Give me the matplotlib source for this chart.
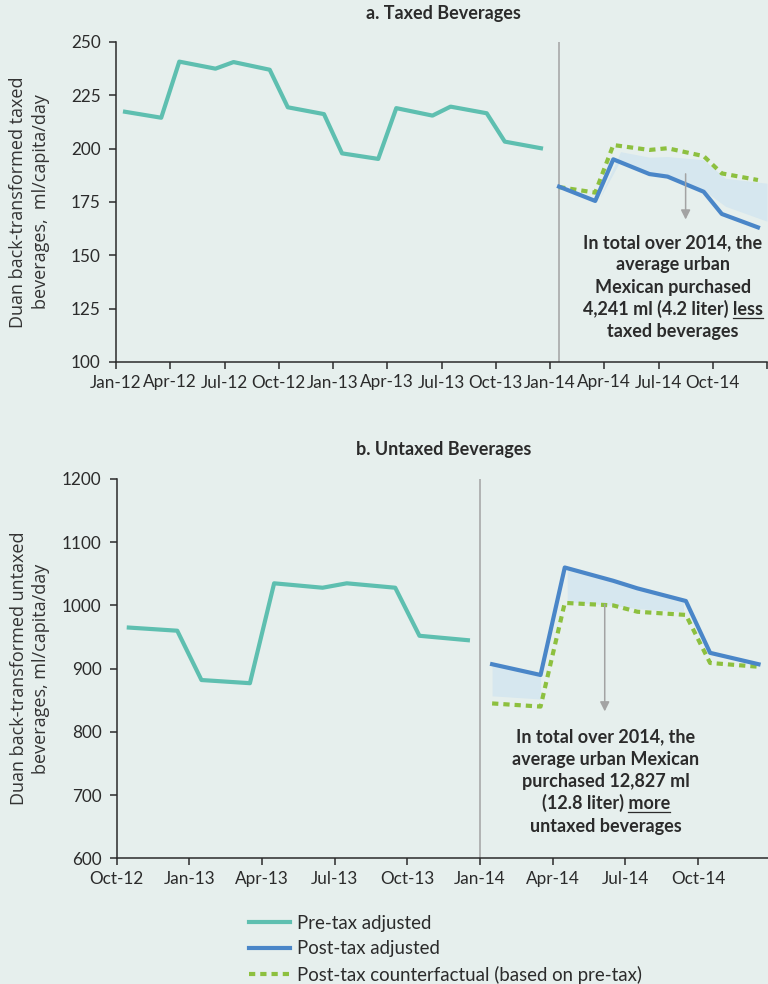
import numpy as np
import matplotlib
matplotlib.use("Agg")
import matplotlib.pyplot as plt
from matplotlib.lines import Line2D

BG = "#e6efed"
TEAL = "#5ebfb0"
BLUE = "#4a86c8"
GREEN = "#8dc03f"
BAND = "#d6e7ef"
GREY = "#a3a3a3"
INK = "#2b2b2b"

# --- taxed beverages (x = months since Jan-12)
tax_pre_m = [0.5, 2.5, 3.5, 5.5, 6.5, 8.5, 9.5, 11.5, 12.5, 14.5, 15.5, 17.5, 18.5, 20.5, 21.5, 23.5]
tax_pre = [217.3, 214.5, 240.8, 237.5, 240.6, 237.0, 219.4, 216.2, 197.8, 195.2, 219.0, 215.5, 219.7, 216.6, 203.3, 200.2]
tax_post_m = [24.5, 26.5, 27.5, 29.5, 30.5, 32.5, 33.5, 35.5]
tax_post = [182.2, 175.5, 195.0, 188.1, 186.9, 179.8, 169.4, 163.1]
tax_cf = [182.0, 179.4, 201.7, 199.4, 200.2, 196.5, 188.4, 185.3]
tax_band_m = [26.8, 27.9, 29.5, 30.5, 32.5, 33.7, 36.0]
tax_band_hi = [178.0, 198.6, 196.0, 196.3, 194.8, 186.1, 183.8]
tax_band_lo = [177.5, 194.5, 188.1, 186.9, 180.5, 173.0, 166.0]
tax_ticks = ["Jan-12", "Apr-12", "Jul-12", "Oct-12", "Jan-13", "Apr-13", "Jul-13",
             "Oct-13", "Jan-14", "Apr-14", "Jul-14", "Oct-14", ""]

# --- untaxed beverages (x = months since Oct-12)
untax_pre_m = [0.5, 2.5, 3.5, 5.5, 6.5, 8.5, 9.5, 11.5, 12.5, 14.5]
untax_pre = [965, 960, 882, 877, 1035, 1028, 1035, 1028, 952, 945]
untax_post_m = [15.5, 17.5, 18.5, 20.5, 21.5, 23.5, 24.5, 26.5]
untax_post = [907, 890, 1060, 1039, 1027, 1007, 925, 907]
untax_cf = [845, 840, 1004, 1000, 990, 985, 909, 903]
untax_band_m = [15.5, 17.5, 18.6, 20.5, 21.5, 23.4]
untax_band_hi = [907, 890, 1058, 1039, 1027, 1008]
untax_band_lo = [857, 852, 1006, 1000, 995, 990]
untax_ticks = ["Oct-12", "Jan-13", "Apr-13", "Jul-13", "Oct-13", "Jan-14", "Apr-14", "Jul-14", "Oct-14"]

plt.rcParams["font.family"] = ["Lato", "DejaVu Sans"]

fig = plt.figure(figsize=(7.68, 9.84), dpi=100, facecolor=BG)
W, H = 768, 984


def px_axes(x0, y0, x1, y1):
    return fig.add_axes([x0 / W, 1 - y1 / H, (x1 - x0) / W, (y1 - y0) / H])


def style(ax):
    ax.set_facecolor(BG)
    for s in ("top", "right"):
        ax.spines[s].set_visible(False)
    for s in ("left", "bottom"):
        ax.spines[s].set_color(INK)
        ax.spines[s].set_linewidth(1.1)
    ax.tick_params(direction="out", length=5, width=1.1, color=INK,
                   labelcolor=INK, labelsize=12.3, pad=4)
    ax.tick_params(axis="y", pad=6)


dots = (0, (1.5, 1.2))
ylab_kw = dict(fontsize=13, family=["Open Sans", "DejaVu Sans"], color="#333333",
               linespacing=1.3)

ax1 = px_axes(116, 42, 767, 362)
style(ax1)
ax1.fill_between(tax_band_m, tax_band_lo, tax_band_hi, color=BAND, lw=0)
ax1.axvline(24.5, color=GREY, lw=1.1)
ax1.plot(tax_pre_m, tax_pre, color=TEAL, lw=3)
ax1.plot(tax_post_m, tax_cf, color=GREEN, lw=3, ls=dots)
ax1.plot(tax_post_m, tax_post, color=BLUE, lw=3)
ax1.annotate("", xy=(31.5, 165.5), xytext=(31.5, 189.5),
             arrowprops=dict(arrowstyle="-|>", color=GREY, lw=1.1, mutation_scale=14))
ax1.set_xlim(0, 36)
ax1.set_ylim(100, 250)
ax1.set_xticks(np.arange(0, 37, 3))
ax1.set_xticklabels(tax_ticks)
ax1.set_yticks(np.arange(100, 251, 25))
ax1.set_ylabel("Duan back-transformed taxed\nbeverages,  ml/capita/day", **ylab_kw)
ax1.yaxis.set_label_coords(-0.102, 0.5)

ax2 = px_axes(116.7, 479, 768, 858.3)
style(ax2)
ax2.fill_between(untax_band_m[:2], untax_band_lo[:2], untax_band_hi[:2], color=BAND, lw=0)
ax2.fill_between(untax_band_m[2:], untax_band_lo[2:], untax_band_hi[2:], color=BAND, lw=0)
ax2.axvline(15, color=GREY, lw=1.1)
ax2.plot(untax_pre_m, untax_pre, color=TEAL, lw=3)
ax2.plot(untax_post_m, untax_cf, color=GREEN, lw=3, ls=dots)
ax2.plot(untax_post_m, untax_post, color=BLUE, lw=3)
ax2.annotate("", xy=(20.15, 828), xytext=(20.15, 1006),
             arrowprops=dict(arrowstyle="-|>", color=GREY, lw=1.1, mutation_scale=14))
ax2.set_xlim(0, 651.3 / 24.22)
ax2.set_ylim(600, 1200)
ax2.set_xticks(np.arange(0, 25, 3))
ax2.set_xticklabels(untax_ticks)
ax2.set_yticks(np.arange(600, 1201, 100))
ax2.set_ylabel("Duan back-transformed untaxed\nbeverages, ml/capita/day", **ylab_kw)
ax2.yaxis.set_label_coords(-0.102, 0.5)

fig.text(443 / W, 1 - 13 / H, "a. Taxed Beverages", ha="center", va="center",
         fontsize=13, fontweight="bold", color=INK)
fig.text(444 / W, 1 - 450 / H, "b. Untaxed Beverages", ha="center", va="center",
         fontsize=13, fontweight="bold", color=INK)

note_kw = dict(ha="center", va="baseline", fontsize=13, fontweight="bold", color=INK)


def note(ax, x, ys, lines, word):
    texts = [ax.text(x, y, s, **note_kw) for y, s in zip(ys, lines)]
    # underline the last word of the fourth line
    fig.canvas.draw()
    r = fig.canvas.get_renderer()
    t = texts[3]
    bb = t.get_window_extent(r)
    tmp = ax.text(0, 0, word, **note_kw)
    w = tmp.get_window_extent(r).width
    tmp.remove()
    ybase = ax.transData.transform((x, ys[3]))[1] - 2.5
    inv = fig.transFigure.inverted()
    p0 = inv.transform((bb.x1 - w, ybase))
    p1 = inv.transform((bb.x1, ybase))
    fig.add_artist(Line2D([p0[0], p1[0]], [p0[1], p1[1]], color=INK, lw=0.9,
                          transform=fig.transFigure))


note(ax1, 30.8, [153.4, 143.1, 132.3, 122.0, 111.7],
     ["In total over 2014, the", "average urban", "Mexican purchased",
      "4,241 ml (4.2 liter) less", "taxed beverages"], "less")
note(ax2, 20.2, [783.5, 748.0, 712.8, 677.4, 641.9],
     ["In total over 2014, the", "average urban Mexican", "purchased 12,827 ml",
      "(12.8 liter) more", "untaxed beverages"], "more")

handles = [Line2D([], [], color=TEAL, lw=3),
           Line2D([], [], color=BLUE, lw=3),
           Line2D([], [], color=GREEN, lw=3, ls=dots)]
labels = ["Pre-tax adjusted", "Post-tax adjusted", "Post-tax counterfactual (based on pre-tax)"]
leg = fig.legend(handles, labels, loc="upper left", bbox_to_anchor=(249 / W, 1 - 915 / H),
                 frameon=False, fontsize=13.4, handlelength=2.2, handletextpad=0.4,
                 labelspacing=0.45, borderpad=0, borderaxespad=0)
for t in leg.get_texts():
    t.set_color(INK)

fig.savefig("out.png", dpi=100, facecolor=BG)
